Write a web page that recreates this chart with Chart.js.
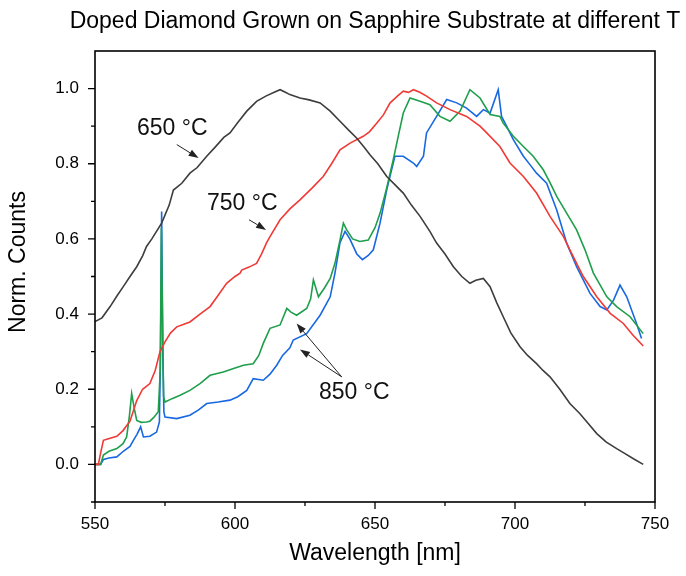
<!DOCTYPE html>
<html>
<head>
<meta charset="utf-8">
<script src="https://cdn.jsdelivr.net/npm/chart.js@4.4.1/dist/chart.umd.min.js"></script>
<style>
html,body{margin:0;padding:0;background:#fff;}
#wrap{width:686px;height:576px;position:relative;}
</style>
</head>
<body>
<div id="wrap"><canvas id="c"></canvas></div>
<script>
// ---- data ----
const wl650 = [550,552.5,555.4,558,560.1,562.5,564.9,567,568.4,570.3,573.8,576.5,578,581,583.9,586.5,589.9,593,596,598.2,601,604.2,607.7,611,614,616.1,618,619.6,623.2,626.5,630.4,634,637.5,640.5,643.5,646,648.2,651,654.2,657,660.1,663,666.1,669.6,672,675,678,681,683.9,686,688.7,691.1,693.5,695.8,698.5,701.8,704.5,707.7,710,712.5,716,719.6,723.2,726,729.2,732.5,736.3,739,742.3,745.8];
const c650  = [0.38,0.39,0.42,0.45,0.473,0.50,0.526,0.555,0.58,0.60,0.642,0.69,0.73,0.748,0.775,0.79,0.82,0.845,0.87,0.882,0.91,0.94,0.966,0.98,0.99,0.997,0.99,0.984,0.975,0.97,0.962,0.94,0.913,0.89,0.868,0.845,0.824,0.80,0.766,0.745,0.722,0.69,0.66,0.62,0.589,0.56,0.526,0.50,0.482,0.49,0.495,0.473,0.43,0.393,0.35,0.313,0.29,0.268,0.25,0.233,0.20,0.162,0.135,0.11,0.082,0.06,0.042,0.03,0.015,0.0];

const wl750 = [550,551.2,552,553,554.2,557.8,560,562.5,564.9,567,569.6,571.5,573.2,575,577,579.2,581.5,583.9,587.5,591.1,594,597,600,601.8,602.4,605,607.7,609.5,611.3,612.5,616.1,619.6,623.2,627.5,631.5,634.5,637.5,641.1,645.8,648,650.6,653,655.4,658,660.1,662,663.7,666,668.4,672,676.8,682.7,687.5,689.9,694.6,698.2,703,707.7,712.5,717.3,719.6,722,724.4,729.2,734,738.7,742,745.8];
const c750  = [0.0,0.0,0.03,0.064,0.067,0.075,0.09,0.115,0.17,0.20,0.215,0.25,0.30,0.326,0.35,0.366,0.372,0.379,0.40,0.42,0.45,0.482,0.50,0.509,0.517,0.525,0.535,0.56,0.59,0.606,0.651,0.68,0.704,0.735,0.766,0.80,0.837,0.855,0.873,0.885,0.908,0.93,0.962,0.98,0.993,0.99,0.997,0.99,0.98,0.962,0.944,0.926,0.9,0.882,0.846,0.802,0.766,0.722,0.66,0.606,0.571,0.535,0.5,0.446,0.402,0.375,0.345,0.315];

const wl850a = [550,552,553,555,557.8,560,561.3,562.3,563.1,564,564.9,566.5,568.4,569.6,571,572.6,573.3,573.7,574.1,574.5,575,577.5,580.4,583.9,587.5,591.1,595.8,599.5,603,606.5,608.5,610.1,612.5,616.1,618.5,620,622,625.6,627,628,629.8,632,634,635.7,637.5,638.7,639.9,642,644.6,647.6,650,651.8,654,656.5,658.5,660.1,662.5,666.1,669.6,673.2,676.8,680.4,683.9,687.5,691.1,694.6,695.8,699.4,703,706.5,710.1,712.5,714.9,718.5,722,725,728,732.8,736.3,741.1,745.8];
const c850a  = [0.0,0.0,0.025,0.035,0.042,0.055,0.073,0.13,0.189,0.15,0.117,0.112,0.113,0.115,0.125,0.14,0.25,0.63,0.4,0.18,0.166,0.175,0.184,0.197,0.215,0.237,0.246,0.255,0.264,0.268,0.29,0.322,0.362,0.371,0.415,0.405,0.397,0.415,0.44,0.491,0.446,0.47,0.495,0.535,0.597,0.642,0.624,0.60,0.593,0.597,0.63,0.668,0.73,0.81,0.88,0.935,0.975,0.966,0.957,0.926,0.913,0.94,0.997,0.975,0.931,0.926,0.908,0.873,0.846,0.82,0.784,0.75,0.713,0.668,0.624,0.571,0.509,0.446,0.42,0.393,0.348];

const wl850b = [550,552,553,555,557.8,560.1,562.5,563.7,565,566.3,567.3,569.6,572,573,573.4,573.8,574.2,574.6,575,579.2,583.9,587,589.9,594,598.2,601,604.2,606.5,610.1,612.5,614.9,617,619.6,620.8,625.6,630.4,634,635.7,637.5,639.3,641,643.5,645.5,647.6,649.4,651.8,654.2,657.1,660.1,663.7,664.9,667.3,668.4,672,675.6,679.2,682.7,686.3,688.7,691.1,694,695.2,697,699.4,703,705.4,707.7,711.3,714.9,718.5,722,726.8,730.4,732.8,735.2,737.5,739.9,743.4,745.2];
const c850b  = [0.0,0.0,0.013,0.017,0.02,0.035,0.048,0.064,0.08,0.1,0.073,0.075,0.086,0.113,0.3,0.673,0.3,0.14,0.126,0.122,0.131,0.145,0.162,0.166,0.171,0.18,0.197,0.228,0.224,0.24,0.264,0.29,0.31,0.331,0.348,0.397,0.446,0.509,0.59,0.62,0.60,0.56,0.545,0.556,0.571,0.642,0.731,0.82,0.82,0.802,0.793,0.82,0.882,0.926,0.971,0.962,0.948,0.926,0.944,0.935,0.997,0.926,0.9,0.864,0.82,0.797,0.775,0.748,0.677,0.588,0.526,0.455,0.42,0.411,0.437,0.477,0.446,0.375,0.335];

const xMajor = [550,600,650,700,750];
const xMinor = [575,625,675,725];
const yMajor = [0.0,0.2,0.4,0.6,0.8,1.0];
const yMinor = [-0.1,0.1,0.3,0.5,0.7,0.9];

const chartTitle = 'Doped Diamond Grown on Sapphire Substrate at different T';
const xTitle = 'Wavelength [nm]';
const yTitle = 'Norm. Counts';
const labelTexts = ['650 °C','750 °C','850 °C'];

// ---- annotation placement (data coordinates) ----
const annotations = {
  texts: [
    {t: 0, x: 565.0, y: 0.893},
    {t: 1, x: 590.0, y: 0.693},
    {t: 2, x: 630.0, y: 0.192}
  ],
  arrows: [
    {from:[579.2,0.851], to:[587.0,0.815]},
    {from:[605.0,0.651], to:[611.1,0.624]},
    {from:[638.1,0.233], to:[622.0,0.375]},
    {from:[638.1,0.233], to:[623.2,0.306]}
  ]
};

const pts = (xs, ys) => xs.map((x, i) => ({x: x, y: ys[i]}));

const FONT = "'Liberation Sans', Arial, sans-serif";

const framePlugin = {
  id: 'frameTicks',
  afterDraw(chart) {
    const {ctx, chartArea: a, scales: {x, y}} = chart;
    ctx.save();
    // titles
    ctx.fillStyle = '#000';
    ctx.textAlign = 'center';
    ctx.textBaseline = 'middle';
    ctx.font = '23px ' + FONT;
    ctx.fillText(chartTitle, (a.left + a.right) / 2, 22);
    ctx.save();
    ctx.translate(19, 262);
    ctx.rotate(-Math.PI / 2);
    ctx.fillText(yTitle, 0, 0);
    ctx.restore();

    ctx.strokeStyle = '#000';
    ctx.lineWidth = 1.6;
    ctx.strokeRect(a.left, a.top, a.right - a.left, a.bottom - a.top);
    ctx.lineWidth = 1.3;
    ctx.beginPath();
    xMajor.forEach(v => { const p = x.getPixelForValue(v); ctx.moveTo(p, a.bottom); ctx.lineTo(p, a.bottom + 7); });
    xMinor.forEach(v => { const p = x.getPixelForValue(v); ctx.moveTo(p, a.bottom); ctx.lineTo(p, a.bottom + 4); });
    yMajor.forEach(v => { const p = y.getPixelForValue(v); ctx.moveTo(a.left, p); ctx.lineTo(a.left - 7, p); });
    yMinor.forEach(v => { const p = y.getPixelForValue(v); ctx.moveTo(a.left, p); ctx.lineTo(a.left - 4, p); });
    ctx.stroke();

    // annotations
    ctx.fillStyle = '#111';
    ctx.font = '23px ' + FONT;
    ctx.textAlign = 'left';
    ctx.textBaseline = 'middle';
    annotations.texts.forEach(o => {
      ctx.fillText(labelTexts[o.t], x.getPixelForValue(o.x), y.getPixelForValue(o.y));
    });
    ctx.strokeStyle = '#222';
    ctx.fillStyle = '#222';
    ctx.lineWidth = 1;
    annotations.arrows.forEach(ar => {
      const x1 = x.getPixelForValue(ar.from[0]), y1 = y.getPixelForValue(ar.from[1]);
      const x2 = x.getPixelForValue(ar.to[0]), y2 = y.getPixelForValue(ar.to[1]);
      const ang = Math.atan2(y2 - y1, x2 - x1);
      const L = 10, W = 3.5;
      const bx = x2 - L * Math.cos(ang), by = y2 - L * Math.sin(ang);
      ctx.beginPath(); ctx.moveTo(x1, y1); ctx.lineTo(bx, by); ctx.stroke();
      ctx.beginPath();
      ctx.moveTo(x2, y2);
      ctx.lineTo(bx + W * Math.sin(ang), by - W * Math.cos(ang));
      ctx.lineTo(bx - W * Math.sin(ang), by + W * Math.cos(ang));
      ctx.closePath(); ctx.fill();
    });
    ctx.restore();
  }
};

const ds = (label, xs, ys, color) => ({
  label: label, data: pts(xs, ys), borderColor: color, backgroundColor: color,
  borderWidth: 1.6, pointRadius: 0, tension: 0, fill: false
});

new Chart(document.getElementById('c'), {
  type: 'line',
  data: {
    datasets: [
      ds('650 °C', wl650, c650, '#3d3d3d'),
      ds('750 °C', wl750, c750, '#f03a36'),
      ds('850 °C (a)', wl850a, c850a, '#1f9e4b'),
      ds('850 °C (b)', wl850b, c850b, '#1868e0')
    ]
  },
  options: {
    responsive: true,
    maintainAspectRatio: false,
    animation: false,
    devicePixelRatio: 1,
    layout: {padding: {left: 0, right: 31, top: 51, bottom: 0}},
    plugins: {
      legend: {display: false},
      tooltip: {enabled: false},
      title: {display: false}
    },
    scales: {
      x: {
        type: 'linear', min: 550, max: 750,
        afterBuildTicks: s => { s.ticks = xMajor.map(v => ({value: v})); },
        afterFit: s => { s.height = 74; },
        grid: {display: false, drawTicks: false},
        border: {display: false},
        ticks: {color: '#000', font: {family: FONT, size: 17}, padding: 12, maxRotation: 0, autoSkip: false,
                callback: v => String(v)},
        title: {display: true, text: xTitle, color: '#000',
                font: {family: FONT, size: 23}, padding: {top: 0, bottom: 9}}
      },
      y: {
        type: 'linear', min: -0.1, max: 1.1,
        afterBuildTicks: s => { s.ticks = yMajor.map(v => ({value: v})); },
        afterFit: s => { s.width = 95; },
        grid: {display: false, drawTicks: false},
        border: {display: false},
        ticks: {color: '#000', font: {family: FONT, size: 17}, padding: 16, autoSkip: false,
                callback: v => Number(v).toFixed(1)},
        title: {display: false}
      }
    }
  },
  plugins: [framePlugin]
});
</script>
</body>
</html>
